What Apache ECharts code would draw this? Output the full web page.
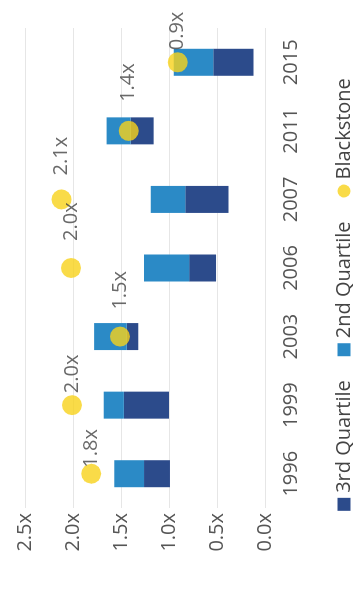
<!DOCTYPE html>
<html>
<head>
<meta charset="utf-8">
<script src="https://cdn.jsdelivr.net/npm/echarts@6/dist/echarts.min.js"></script>
<style>
html,body{margin:0;padding:0;width:359px;height:589px;overflow:hidden;background:#fff;}
#chart{position:absolute;left:0;top:0;width:589px;height:359px;transform-origin:0 0;transform:translate(0,589px) rotate(-90deg);}
</style>
</head>
<body>
<div id="chart"></div>
<script>
// ---- data ----
const categories = ['1996', '1999', '2003', '2006', '2007', '2011', '2015'];
const quartileLow = [0.99, 1.00, 1.32, 0.51, 0.38, 1.16, 0.12];
const quartileMedian = [1.26, 1.47, 1.44, 0.79, 0.83, 1.40, 0.54];
const quartileHigh = [1.57, 1.68, 1.78, 1.26, 1.19, 1.65, 0.95];
const blackstone = [1.81, 2.01, 1.51, 2.02, 2.12, 1.42, 0.91];
const tickLabels = ['0.0x', '0.5x', '1.0x', '1.5x', '2.0x', '2.5x'];
const seriesNames = ['3rd Quartile', '2nd Quartile', 'Blackstone'];

// ---- styles ----
const FONT = 'Open Sans';
const labelGaps = [-4, 2, 17, 17, 14, 19, 2];

const q3 = quartileMedian.map((m, i) => +(m - quartileLow[i]).toFixed(3));
const q2 = quartileHigh.map((h, i) => +(h - quartileMedian[i]).toFixed(3));

const chart = echarts.init(document.getElementById('chart'), null, {renderer: 'canvas'});
chart.setOption({
  animation: false,
  backgroundColor: '#ffffff',
  textStyle: {fontFamily: FONT},
  grid: {left: 81, right: 28, top: 25, bottom: 94, containLabel: false, outerBoundsMode: 'none'},
  legend: {
    data: [
      {name: seriesNames[0], icon: 'rect'},
      {name: seriesNames[1], icon: 'rect'},
      {name: seriesNames[2], icon: 'circle'}
    ],
    left: 'center',
    bottom: 0,
    itemWidth: 13,
    itemHeight: 13,
    itemGap: 24,
    textStyle: {fontFamily: FONT, fontSize: 20, color: '#444'}
  },
  xAxis: {
    type: 'category',
    data: categories,
    axisLine: {show: false},
    axisTick: {show: false},
    axisLabel: {fontFamily: FONT, fontSize: 20, color: '#555', margin: 16}
  },
  yAxis: {
    type: 'value',
    min: 0,
    max: 2.5,
    interval: 0.5,
    axisLine: {show: false},
    axisTick: {show: false},
    splitLine: {lineStyle: {color: '#e6e6e6', width: 1}},
    axisLabel: {
      fontFamily: FONT, fontSize: 20, color: '#555', margin: 5,
      formatter: v => tickLabels[Math.round(v / 0.5)]
    }
  },
  series: [
    {
      name: 'base', type: 'bar', stack: 'q', data: quartileLow, barWidth: 27,
      itemStyle: {color: 'rgba(0,0,0,0)'}, silent: true, emphasis: {disabled: true}
    },
    {
      name: seriesNames[0], type: 'bar', stack: 'q', data: q3, barWidth: 27,
      itemStyle: {color: '#2c4b8b'}, emphasis: {disabled: true}
    },
    {
      name: seriesNames[1], type: 'bar', stack: 'q', data: q2, barWidth: 27,
      itemStyle: {color: '#2b8ac6'}, emphasis: {disabled: true}
    },
    {
      name: seriesNames[2], type: 'scatter', symbol: 'circle', symbolSize: 20, z: 5,
      itemStyle: {color: '#f7d21a'},
      emphasis: {disabled: true},
      data: blackstone.map((v, i) => ({value: v, label: {distance: labelGaps[i]}})),
      label: {
        show: true, position: 'right', fontFamily: FONT, fontSize: 20, color: '#444',
        formatter: p => p.value.toFixed(1) + 'x'
      }
    }
  ]
});
</script>
</body>
</html>
